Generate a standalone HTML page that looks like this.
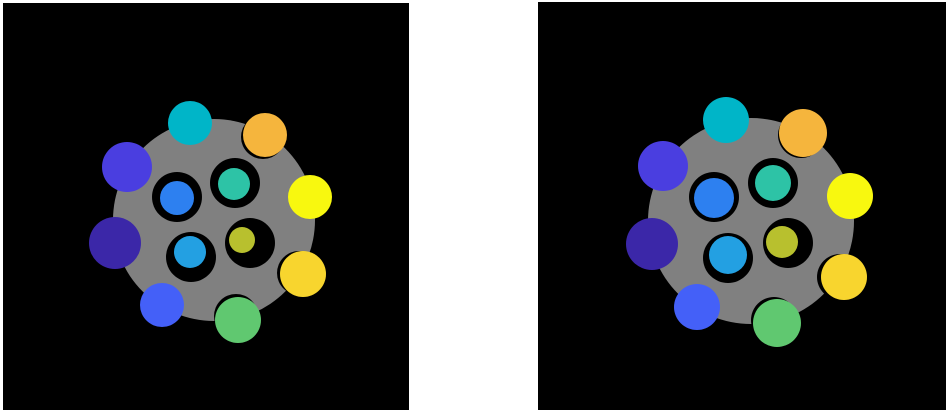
<!DOCTYPE html>
<html><head><meta charset="utf-8"><style>
html,body{margin:0;padding:0;background:#fff;width:951px;height:413px;overflow:hidden}
svg{display:block}
</style></head><body>
<svg width="951" height="413">
<rect x="3" y="3" width="406" height="407" fill="#000"/>
<rect x="538" y="2" width="408" height="408" fill="#000"/>
<g id="L"></g>
<g id="R"></g>
</svg>
<script>
const colors=['#00b5c8','#f5b53d','#4a3ee0','#f8f80f','#3b27a8','#f8d52e','#4460f8','#60c870','#2d80f0','#2dc3a6','#23a0e2','#b8c02e'];
const leftDisc=[214,220,101];
const rightDisc=[751,221,103];
const leftRings=[[177,197,25],[235,183,25],[191,257,25],[250,243,25],[263,137,22],[299,273,22],[236,316,22]];
const rightRings=[[714,197,25],[773,183,25],[728,258,25],[788,243,25],[801,135,23],[840,277,23],[774,320,23]];
const leftBlobs=[[190,123,22],[265,135,22],[127,167,25],[310,197,22],[115,243,26],[303,274,23],[162,305,22],[238,320,23],[177,198,17],[234,184,16],[190,252,16],[242,240,13]];
const rightBlobs=[[726,120,23],[803,133,24],[663,166,25],[850,196,23],[652,244,26],[844,277,23],[697,307,23],[777,323,24],[714,198,20],[773,183,18],[728,255,19],[782,242,16]];
const NS='http://www.w3.org/2000/svg';
function circ(g,c,fill){const e=document.createElementNS(NS,'circle');e.setAttribute('cx',c[0]);e.setAttribute('cy',c[1]);e.setAttribute('r',c[2]);e.setAttribute('fill',fill);g.appendChild(e);return e;}
function draw(id,disc,rings,blobs){
 const g=document.getElementById(id);
 const d=circ(g,disc,'#808080');
 
 
 rings.forEach(r=>{const e=circ(g,r,'#000');
 
 });
 blobs.forEach((b,i)=>{const e=circ(g,b,colors[i]);
 
 });
}
draw('L',leftDisc,leftRings,leftBlobs);
draw('R',rightDisc,rightRings,rightBlobs);
</script>
</body></html>
